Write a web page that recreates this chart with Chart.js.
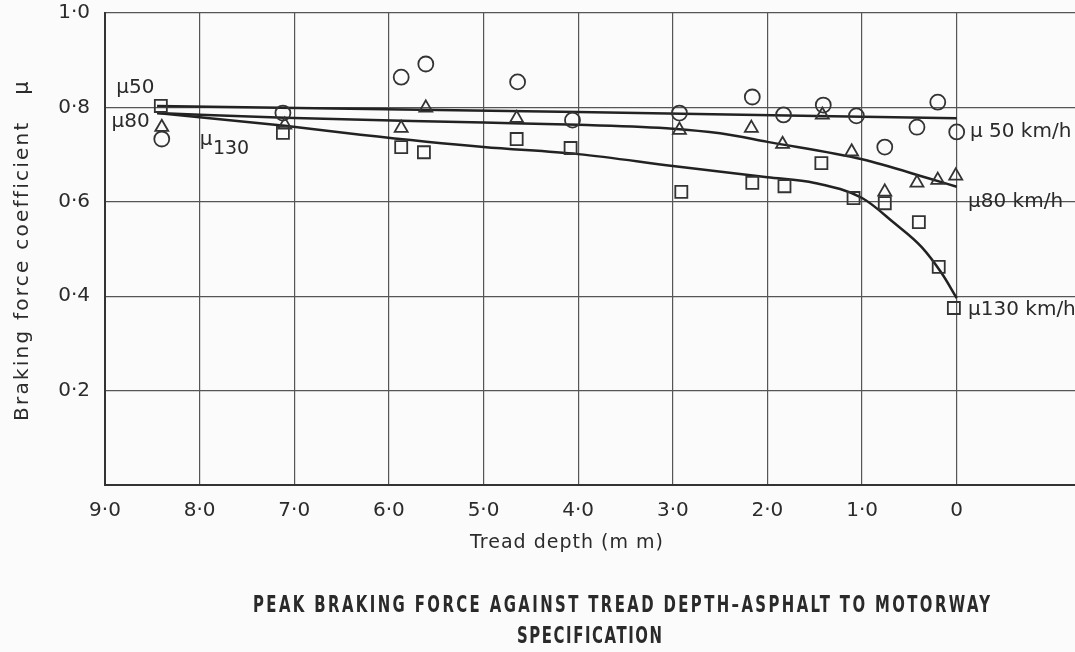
<!DOCTYPE html>
<html>
<head>
<meta charset="utf-8">
<script src="https://cdn.jsdelivr.net/npm/chart.js@4.4.1/dist/chart.umd.min.js"></script>
<style>
  html, body { margin: 0; padding: 0; background: #fbfbfb; }
  canvas { display: block; }
</style>
</head>
<body>
<canvas id="myChart" width="1075" height="652"></canvas>
<script>
// measured points: tread depth (mm) vs braking force coefficient
var depth50 = [8.40, 7.12, 5.87, 5.61, 4.64, 4.06, 2.93, 2.16, 1.83, 1.41, 1.06, 0.76, 0.42, 0.20, 0.00];
var mu50    = [0.733, 0.788, 0.864, 0.892, 0.854, 0.773, 0.788, 0.822, 0.784, 0.805, 0.782, 0.716, 0.758, 0.811, 0.748];

var depth80 = [8.40, 7.10, 5.87, 5.61, 4.65, 2.93, 2.17, 1.84, 1.42, 1.11, 0.76, 0.42, 0.20, 0.01];
var mu80    = [0.758, 0.763, 0.756, 0.799, 0.777, 0.752, 0.756, 0.722, 0.784, 0.706, 0.621, 0.640, 0.646, 0.655];

var depth130 = [8.41, 7.12, 5.87, 5.63, 4.65, 4.08, 2.91, 2.16, 1.82, 1.43, 1.09, 0.76, 0.40, 0.19, 0.03];
var mu130    = [0.803, 0.746, 0.716, 0.705, 0.733, 0.714, 0.621, 0.640, 0.633, 0.682, 0.608, 0.597, 0.557, 0.462, 0.375];

// fitted curves drawn through the points
var fit50X  = [8.45, 4.0, 0.0];
var fit50Y  = [0.803, 0.790, 0.777];
var fit80X  = [8.45, 7.1, 5.0, 4.0, 3.0, 2.5, 2.0, 1.0, 0.3, 0.0];
var fit80Y  = [0.788, 0.778, 0.768, 0.763, 0.755, 0.745, 0.727, 0.690, 0.650, 0.632];
var fit130X = [8.45, 7.1, 6.3, 5.0, 4.0, 3.0, 2.0, 1.5, 1.0, 0.66, 0.37, 0.16, 0.0];
var fit130Y = [0.788, 0.761, 0.742, 0.716, 0.701, 0.676, 0.652, 0.640, 0.608, 0.555, 0.504, 0.449, 0.396];

var xTicks = [9, 8, 7, 6, 5, 4, 3, 2, 1, 0];
var yTicks = [0, 0.2, 0.4, 0.6, 0.8, 1.0];

function pts(xs, ys) {
  return xs.map(function (x, i) { return { x: x, y: ys[i] }; });
}
function dotLabel(v) {
  if (v === 0) return '0';
  return v.toFixed(1).replace('.', '\u00b7');
}

// write text so that it spans a given width, glyphs squeezed by sx
function spread(ctx, text, left, y, width, sx) {
  sx = sx || 1;
  ctx.save();
  ctx.translate(left, y);
  ctx.scale(sx, 1);
  ctx.letterSpacing = '0px';
  var w = ctx.measureText(text).width;
  var sp = text.length > 1 ? (width / sx - w) / (text.length - 1) : 0;
  ctx.letterSpacing = sp + 'px';
  ctx.textAlign = 'left';
  ctx.fillText(text, 0, 0);
  ctx.restore();
}

var textPlugin = {
  id: 'texts',
  afterDraw: function (chart) {
    var ctx = chart.ctx;
    var xs = chart.scales.x, ys = chart.scales.y;
    ctx.save();
    ctx.fillStyle = '#2b2b2b';
    ctx.textBaseline = 'middle';

    // y axis title, rotated
    ctx.save();
    ctx.translate(23, 0);
    ctx.rotate(-Math.PI / 2);
    ctx.font = '20px "DejaVu Sans"';
    spread(ctx, 'Braking force coefficient', -421, 0, 298);
    ctx.font = '21px "DejaVu Sans"';
    ctx.textAlign = 'center';
    ctx.fillText('\u03bc', -88, 0);
    ctx.restore();

    // x axis title
    ctx.font = '19px "DejaVu Sans"';
    ctx.letterSpacing = '1px';
    ctx.textAlign = 'left';
    ctx.fillText('Tread depth (m m)', 470, 543);
    ctx.letterSpacing = '0px';

    // curve labels, left side
    ctx.font = '20px "DejaVu Sans"';
    ctx.textAlign = 'left';
    ctx.fillText('\u03bc50', xs.getPixelForValue(8.88), ys.getPixelForValue(0.841));
    ctx.fillText('\u03bc80', xs.getPixelForValue(8.93), ys.getPixelForValue(0.769));
    ctx.fillText('\u03bc', xs.getPixelForValue(8.0), ys.getPixelForValue(0.731));
    ctx.font = '19px "DejaVu Sans"';
    ctx.fillText('130', xs.getPixelForValue(7.86), ys.getPixelForValue(0.712));

    // curve labels, right side
    ctx.font = '20px "DejaVu Sans"';
    ctx.fillText('\u03bc 50 km/h', xs.getPixelForValue(-0.14), ys.getPixelForValue(0.748));
    ctx.fillText('\u03bc80 km/h', xs.getPixelForValue(-0.12), ys.getPixelForValue(0.600));
    ctx.fillText('\u03bc130 km/h', xs.getPixelForValue(-0.12), ys.getPixelForValue(0.371));

    // caption
    ctx.font = 'bold 23px "Liberation Sans Narrow", "DejaVu Sans Condensed", sans-serif';
    ctx.fillStyle = '#2a2a2a';
    spread(ctx, 'PEAK BRAKING FORCE AGAINST TREAD DEPTH\u2013ASPHALT TO MOTORWAY', 253, 606, 737, 0.72);
    spread(ctx, 'SPECIFICATION', 517, 637, 145, 0.72);
    ctx.restore();
  }
};

Chart.defaults.font.family = '"DejaVu Sans"';
Chart.defaults.color = '#2b2b2b';

var markerColor = '#333333';
var curveColor = '#222222';

var chart = new Chart('myChart', {
  type: 'scatter',
  data: {
    datasets: [{
      label: '50 km/h',
      data: pts(depth50, mu50),
      pointStyle: 'circle',
      pointRadius: 7.5,
      pointBorderWidth: 1.8,
      pointBorderColor: markerColor,
      pointBackgroundColor: 'rgba(0,0,0,0)'
    }, {
      label: '80 km/h',
      data: pts(depth80, mu80),
      pointStyle: 'triangle',
      pointRadius: 7.5,
      pointBorderWidth: 1.8,
      pointBorderColor: markerColor,
      pointBackgroundColor: 'rgba(0,0,0,0)'
    }, {
      label: '130 km/h',
      data: pts(depth130, mu130),
      pointStyle: 'rect',
      pointRadius: 8.5,
      pointBorderWidth: 1.8,
      pointBorderColor: markerColor,
      pointBackgroundColor: 'rgba(0,0,0,0)'
    }, {
      type: 'line',
      label: 'fit 50',
      data: pts(fit50X, fit50Y),
      borderColor: curveColor,
      borderWidth: 2.5,
      pointRadius: 0,
      cubicInterpolationMode: 'monotone'
    }, {
      type: 'line',
      label: 'fit 80',
      data: pts(fit80X, fit80Y),
      borderColor: curveColor,
      borderWidth: 2.5,
      pointRadius: 0,
      cubicInterpolationMode: 'monotone'
    }, {
      type: 'line',
      label: 'fit 130',
      data: pts(fit130X, fit130Y),
      borderColor: curveColor,
      borderWidth: 2.5,
      pointRadius: 0,
      cubicInterpolationMode: 'monotone'
    }]
  },
  options: {
    responsive: false,
    animation: false,
    layout: { autoPadding: false, padding: { top: 13, right: 0, bottom: 0, left: 0 } },
    plugins: {
      legend: { display: false },
      tooltip: { enabled: false }
    },
    scales: {
      x: {
        type: 'linear',
        reverse: true,
        min: -1.25,
        max: 9,
        afterBuildTicks: function (s) {
          s.ticks = xTicks.map(function (v) { return { value: v }; });
        },
        afterFit: function (s) {
          s.height = 167;
          s.paddingLeft = 0;
          s.paddingRight = 0;
        },
        ticks: {
          padding: 14,
          font: { size: 20 },
          color: '#2b2b2b',
          callback: function (v) { return dotLabel(v); }
        },
        grid: { color: '#555555', lineWidth: 1.2, drawTicks: false },
        border: { color: '#333333', width: 2 }
      },
      y: {
        min: 0,
        max: 1,
        afterBuildTicks: function (s) {
          s.ticks = yTicks.map(function (v) { return { value: v }; });
        },
        afterFit: function (s) {
          s.width = 105;
          s.paddingTop = 0;
          s.paddingBottom = 0;
        },
        ticks: {
          padding: 15,
          font: { size: 20 },
          color: '#2b2b2b',
          callback: function (v) { return v === 0 ? '' : dotLabel(v); }
        },
        grid: { color: '#555555', lineWidth: 1.2, drawTicks: false },
        border: { color: '#333333', width: 2 }
      }
    }
  },
  plugins: [textPlugin]
});
</script>
</body>
</html>
